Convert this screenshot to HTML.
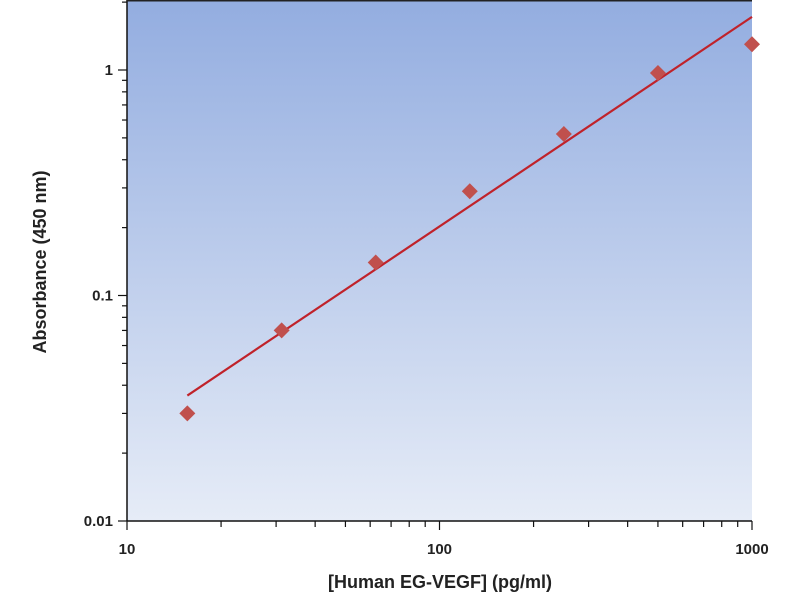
<!DOCTYPE html>
<html><head><meta charset="utf-8"><style>
body{margin:0;background:#fff;}
svg{display:block;font-family:"Liberation Sans",sans-serif;}
</style></head><body>
<svg id="chart" width="800" height="600">
<defs><linearGradient id="bg" x1="0" y1="0" x2="0" y2="1">
<stop offset="0" stop-color="#93ade0"/><stop offset="1" stop-color="#e6ecf7"/></linearGradient></defs>
<rect x="127" y="0" width="625" height="521" fill="url(#bg)"/>
<g id="axes"></g>
<g id="marks"></g>
<text x="440" y="588" text-anchor="middle" font-size="18" font-weight="bold" fill="#222">[Human EG-VEGF] (pg/ml)</text>
<text transform="translate(46,262) rotate(-90)" text-anchor="middle" font-size="18" font-weight="bold" fill="#222">Absorbance (450 nm)</text>
</svg>
<script>
const concentrations=[15.6,31.25,62.5,125,250,500,1000];
const absorbance=[0.030,0.070,0.140,0.290,0.520,0.970,1.300];
const fitStart=[15.6,0.036];
const fitEnd=[1000,1.72];
const xTicks=[10,100,1000];
const yTicks=[0.01,0.1,1];
const NS='http://www.w3.org/2000/svg';
const L=127,R=752,B=521,T=0;
const xs=v=>L+(Math.log10(v)-1)*(R-L)/2;
const ys=v=>B-(Math.log10(v)+2)*225.5;
function mk(p,t,a){const e=document.createElementNS(NS,t);for(const k in a)e.setAttribute(k,a[k]);p.appendChild(e);return e;}
const ax=document.getElementById('axes');
let e=mk(ax,'line',{x1:L,y1:T,x2:L,y2:B,stroke:'#111','stroke-width':1.5});


e=mk(ax,'line',{x1:L,y1:B,x2:R,y2:B,stroke:'#111','stroke-width':1.5});


mk(ax,'line',{x1:L,y1:0.75,x2:R,y2:0.75,stroke:'#222','stroke-width':1.5});
for(let d=1;d<3;d++)for(let m=1;m<10;m++){const v=Math.pow(10,d)*m;const x=xs(v);
mk(ax,'line',{x1:x,y1:B,x2:x,y2:B+(m==1?9:6),stroke:'#111','stroke-width':1.2});}
mk(ax,'line',{x1:R,y1:B,x2:R,y2:B+9,stroke:'#111','stroke-width':1.2});
for(let d=-2;d<1;d++)for(let m=1;m<10;m++){const v=Math.pow(10,d)*m;const y=ys(v);if(y<T)continue;
mk(ax,'line',{x1:L-(m==1?9:5),y1:y,x2:L,y2:y,stroke:'#111','stroke-width':1.2});}
xTicks.forEach(v=>{const t=mk(ax,'text',{x:xs(v),y:554,'text-anchor':'middle','font-size':15,'font-weight':'bold',fill:'#222'});t.textContent=v;

});
yTicks.forEach(v=>{const t=mk(ax,'text',{x:L-14,y:ys(v)+5,'text-anchor':'end','font-size':15,'font-weight':'bold',fill:'#222'});t.textContent=v;

});
const mg=document.getElementById('marks');
const fl=mk(mg,'line',{x1:xs(fitStart[0]),y1:ys(fitStart[1]),x2:xs(fitEnd[0]),y2:ys(fitEnd[1]),stroke:'#c0222a','stroke-width':2.2});


concentrations.forEach((c,i)=>{const x=xs(c),y=ys(absorbance[i]);
const p=mk(mg,'polygon',{points:`${x},${y-8} ${x+8},${y} ${x},${y+8} ${x-8},${y}`,fill:'#c0504d'});

});
</script>
</body></html>
